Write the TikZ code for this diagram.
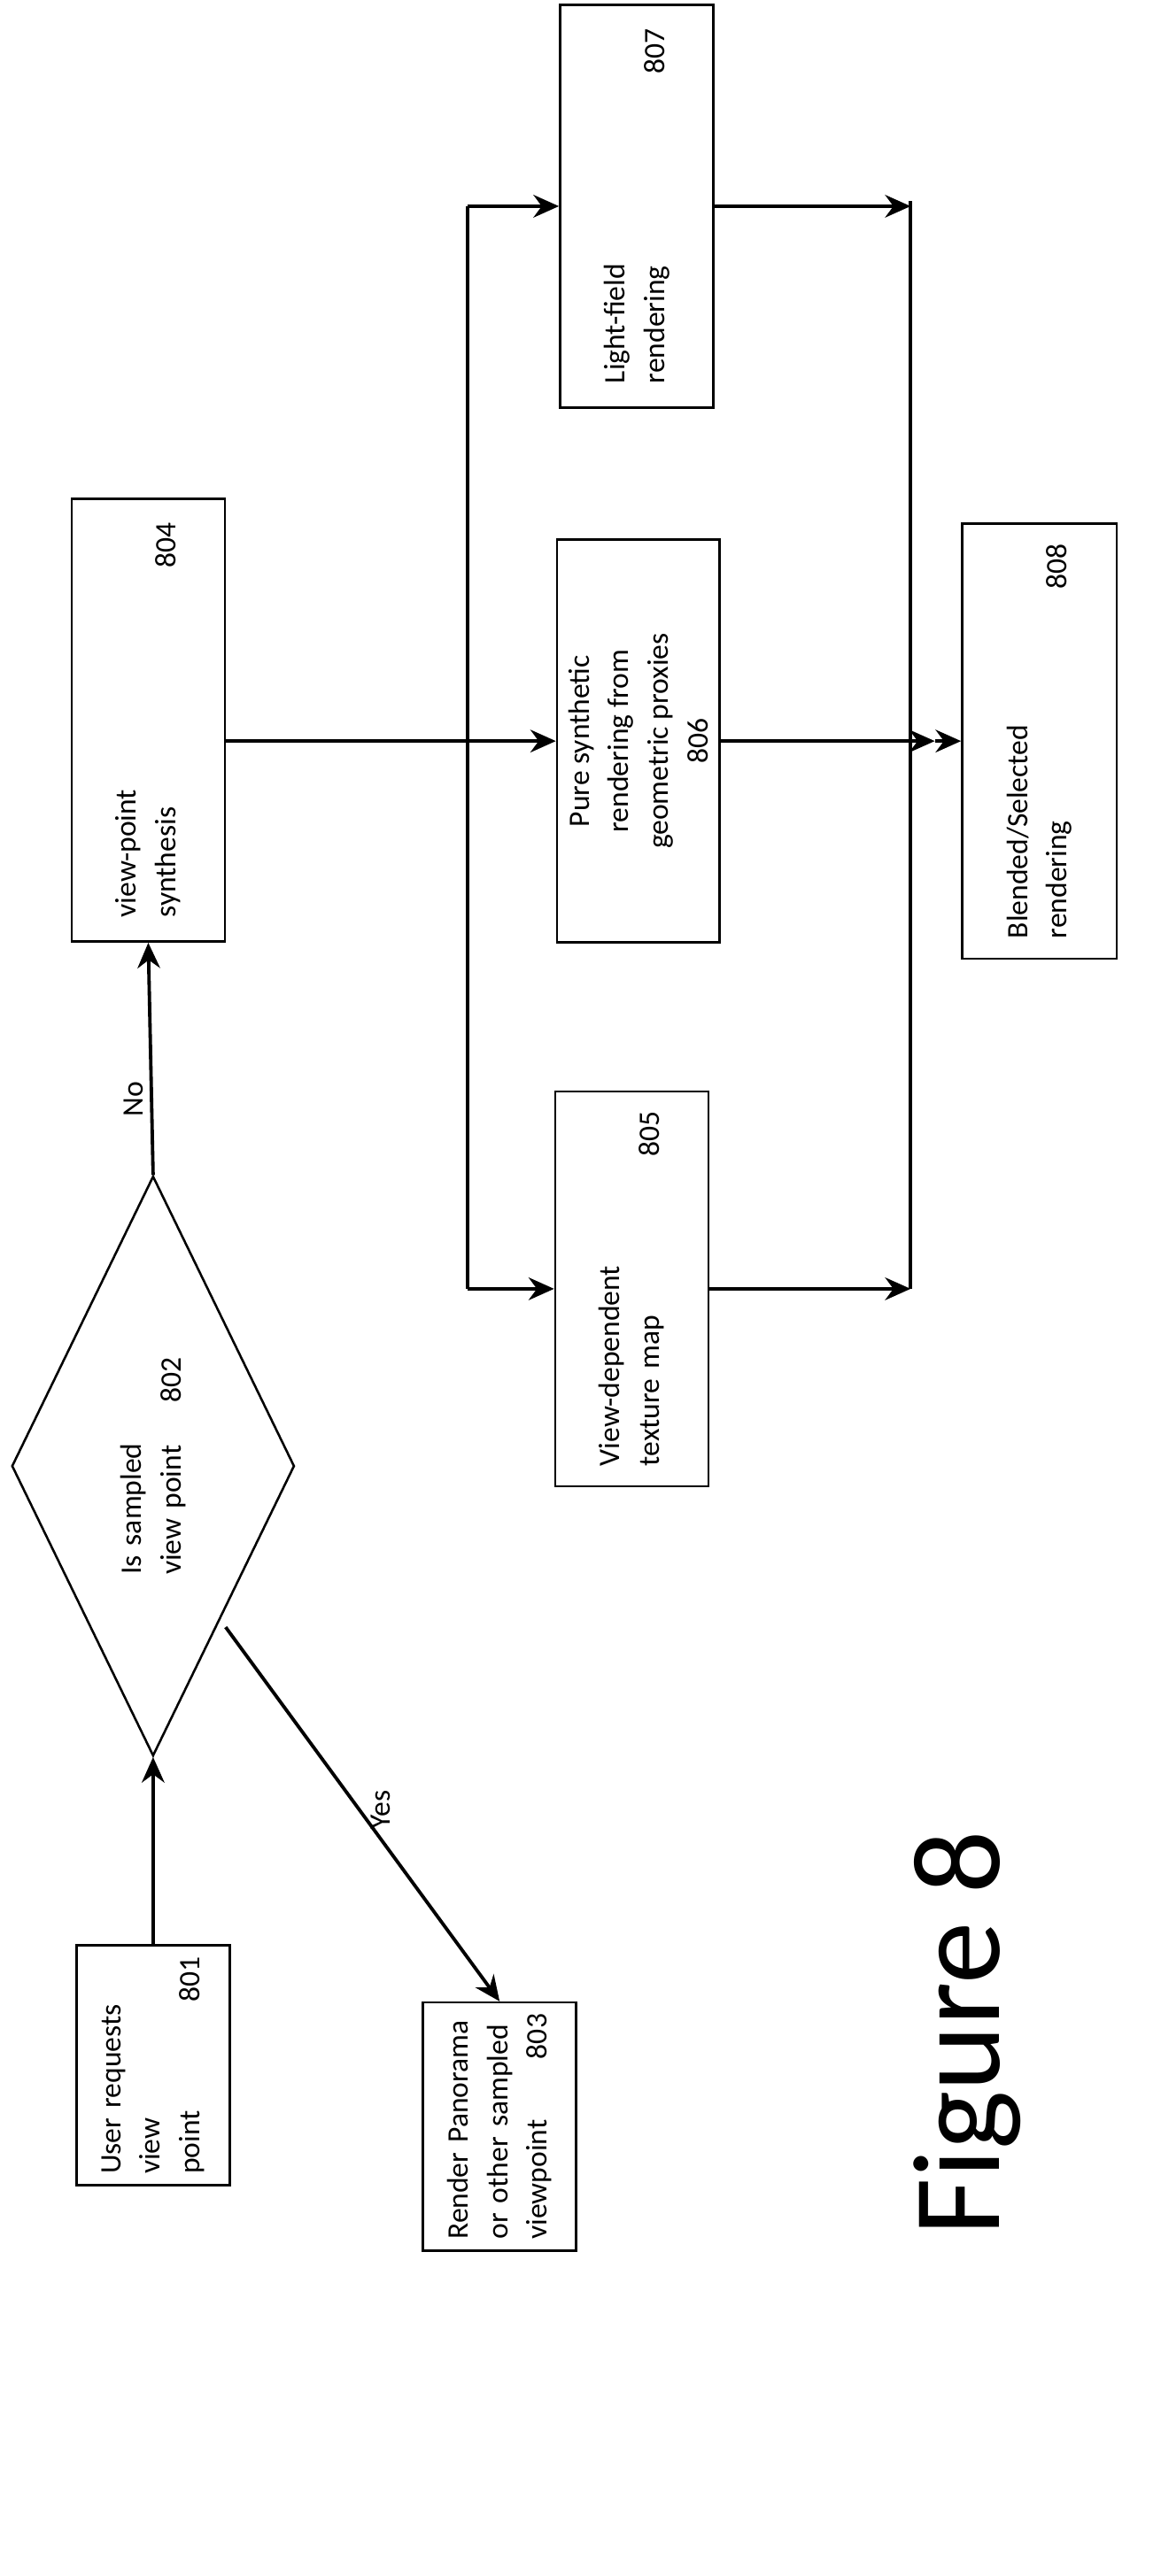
\documentclass[tikz,border=0pt]{standalone}
\usepackage{fontspec}
\setmainfont{Carlito}
\usetikzlibrary{shapes.geometric,arrows.meta}
\begin{document}
\begin{tikzpicture}[x=0.02cm,y=-0.02cm]
	\tikzstyle{Box} = [rectangle, rotate=90, draw=black, line width=0.8pt, align=left, font=\fontsize{10.5}{14}\selectfont, inner sep=4pt]
	\tikzstyle{arrow} = [line width=1.2pt,-{Stealth[length=9pt,width=8pt]}]
	\tikzstyle{line} = [line width=1.2pt]
	\useasboundingbox (0,0) rectangle (720,1599);
	
	% left column
	\node (u801) [Box, minimum width=2.7cm, minimum height=1.9cm, text width=2.7cm] at (95,1282) {User requests view\\point\hfill 801};
	\node (r803) [Box, minimum width=2.8cm, minimum height=1.9cm, text width=2.8cm] at (310,1320) {Render Panorama\\or other sampled\\viewpoint\hfill 803};
	\node (d802) [Box, shape=diamond, minimum width=7.2cm, minimum height=3.36cm, inner sep=0pt, text width=2.7cm] at (95,910) {Is sampled\\view point\hfill 802};
	\node (v804) [Box, minimum width=5.5cm, minimum height=1.9cm, text width=4.9cm] at (92,447) {view-point\\synthesis\hfill 804};
	
	% right columns
	\node (t805) [Box, minimum width=4.9cm, minimum height=1.9cm, text width=4.4cm] at (392,800) {View-dependent\\texture map\hfill 805};
	\node (p806) [Box, minimum width=5.0cm, minimum height=1.94cm, align=center] at (396,460) {Pure synthetic\\rendering from\\geometric proxies\\806};
	\node (l807) [Box, minimum width=5.0cm, minimum height=1.9cm, text width=4.4cm] at (395,128) {Light-field\\rendering\hfill 807};
	\node (b808) [Box, minimum width=5.4cm, minimum height=1.92cm, text width=4.9cm] at (645,460) {Blended/Selected\\rendering\hfill 808};
	
	\coordinate (split) at (290,460);
	\coordinate (sTop) at (290,128);
	\coordinate (sBot) at (290,800);
	\coordinate (jTop) at (565,125);
	\coordinate (jBot) at (565,800);
	\coordinate (jMid) at (580,460);
	
	\draw [arrow] (u801.east) -- (d802.west);
	\draw [arrow] (d802.east) -- node (no) [pos=0.45, left=6pt, rotate=90, font=\fontsize{10.5}{14}\selectfont] {No} (v804.west);
	\draw [arrow] (140,1010) -- node (yes) [pos=0.6, above right=4pt, rotate=90, font=\fontsize{10.5}{14}\selectfont] {Yes} (r803.east);
	
	\draw [line] (v804.south |- split) -- (split);
	\draw [line] (sTop) -- (sBot);
	\draw [arrow] (sTop) -- (l807.north |- sTop);
	\draw [arrow] (split) -- (p806.north |- split);
	\draw [arrow] (sBot) -- (t805.north |- sBot);
	
	\draw [line] (jTop) -- (jBot);
	\draw [arrow] (l807.south |- sTop) -- (jTop |- sTop);
	\draw [arrow] (t805.south |- jBot) -- (jBot);
	\draw [arrow] (p806.south |- jMid) -- (jMid);
	\draw [arrow] (jMid) -- (b808.north |- jMid);
	
	\node (fig) [rotate=90, font=\fontsize{44}{50}\selectfont] at (600,1262) {Figure 8};
\end{tikzpicture}
\end{document}
